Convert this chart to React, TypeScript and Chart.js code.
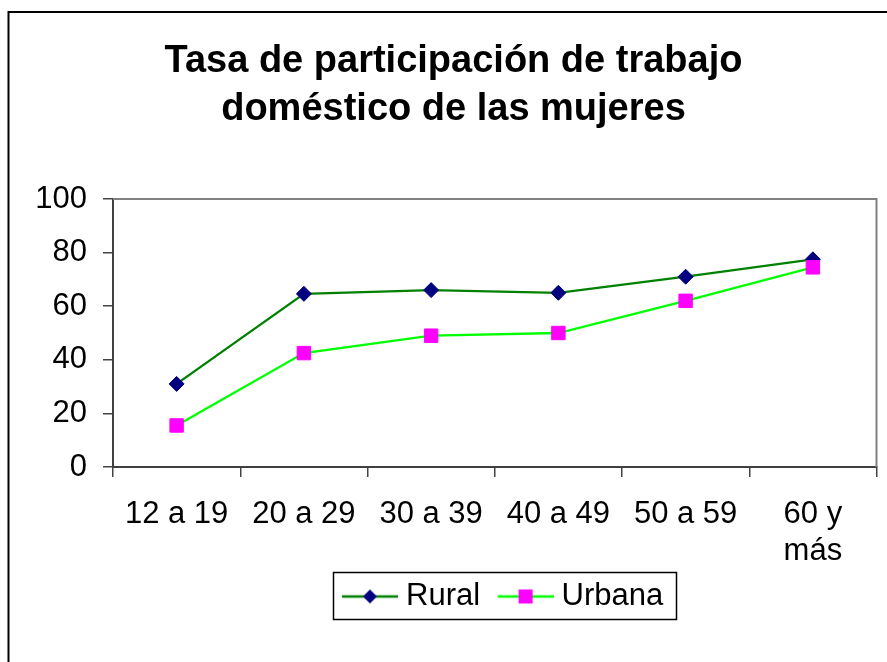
import React, { useEffect, useRef } from 'react';
import { Chart, registerables } from 'chart.js';

Chart.register(...registerables);

// ---- data ----
const categories: (string | string[])[] = ['12 a 19', '20 a 29', '30 a 39', '40 a 49', '50 a 59', ['60 y', 'más']];
const rural: number[] = [31, 64.6, 66, 65, 71, 77.5];
const urbana: number[] = [15.5, 42.5, 49, 50, 62, 74.5];
const seriesNames: string[] = ['Rural', 'Urbana'];
const titleLines: string[] = ['Tasa de participación de trabajo', 'doméstico de las mujeres'];
const yMin = 0;
const yMax = 100;
const yStep = 20;

const FONT = '"Liberation Sans", Arial, Helvetica, sans-serif';
const RURAL_LINE = '#008000';
const RURAL_MARK = '#000080';
const URB_LINE = '#00FF00';
const URB_MARK = '#FF00FF';
const LEGEND_FIRST_X = 334.5;
const LEGEND_PAD = 10;
const LEGEND_BOX_W = 56;

// legend symbol image: 71 wide, line drawn on its right 56 px, marker centred on the line
function makeLegendImage(lineColor: string, markColor: string, kind: 'diamond' | 'square') {
  const c = document.createElement('canvas');
  c.width = 71;
  c.height = 18;
  const ctx = c.getContext('2d')!;
  ctx.strokeStyle = lineColor;
  ctx.lineWidth = 2.5;
  ctx.beginPath();
  ctx.moveTo(15, 9);
  ctx.lineTo(71, 9);
  ctx.stroke();
  ctx.fillStyle = markColor;
  const cx = 43;
  if (kind === 'diamond') {
    ctx.beginPath();
    ctx.moveTo(cx - 7, 9);
    ctx.lineTo(cx, 2);
    ctx.lineTo(cx + 7, 9);
    ctx.lineTo(cx, 16);
    ctx.closePath();
    ctx.fill();
  } else {
    ctx.fillRect(cx - 7, 2, 14, 14);
  }
  return c;
}

const framePlugin = {
  id: 'framePlugin',
  afterLayout(chart: any) {
    const lg = chart.legend;
    if (!lg || !lg.lineWidths) return;
    const pad = lg.options.labels.padding;
    const lw = lg.lineWidths[0];
    const start = (lg.left + pad + lg.right - lw) / 2;
    const delta = LEGEND_FIRST_X - start;
    lg.left += delta;
    lg.right += delta;
  },
  beforeDatasetsDraw(chart: any) {
    const { ctx, chartArea } = chart;
    ctx.save();
    ctx.strokeStyle = '#808080';
    ctx.lineWidth = 2;
    ctx.beginPath();
    ctx.moveTo(chartArea.left, chartArea.top);
    ctx.lineTo(chartArea.right, chartArea.top);
    ctx.lineTo(chartArea.right, chartArea.bottom);
    ctx.stroke();
    ctx.restore();
  },
  afterDraw(chart: any) {
    const { ctx } = chart;
    ctx.save();
    ctx.strokeStyle = '#000';
    ctx.lineWidth = 2;
    ctx.beginPath();
    ctx.moveTo(8.5, 700);
    ctx.lineTo(8.5, 12);
    ctx.lineTo(900, 12);
    ctx.stroke();
    const lg = chart.legend;
    if (lg && lg.legendHitBoxes && lg.legendHitBoxes.length) {
      const hb = lg.legendHitBoxes;
      const first = hb[0];
      const last = hb[hb.length - 1];
      const cy = first.top + first.height / 2;
      const left = Math.round(first.left - 1.5) + 0.5;
      const right = Math.round(last.left + last.width + 13) + 0.5;
      const top = Math.round(cy - 24.5) + 0.5;
      const bottom = Math.round(cy + 22.5) + 0.5;
      ctx.lineWidth = 1.5;
      ctx.strokeRect(left, top, right - left, bottom - top);
    }
    ctx.restore();
  },
};

export default function App() {
  const ref = useRef<HTMLCanvasElement | null>(null);

  useEffect(() => {
    if (!ref.current) return;
    const imgs = [
      makeLegendImage(RURAL_LINE, RURAL_MARK, 'diamond'),
      makeLegendImage(URB_LINE, URB_MARK, 'square'),
    ];
    const tickFont = { family: FONT, size: 31 };
    const chart = new Chart(ref.current, {
      type: 'line',
      data: {
        labels: categories as any,
        datasets: [
          {
            label: seriesNames[0],
            data: rural,
            borderColor: RURAL_LINE,
            backgroundColor: RURAL_MARK,
            pointBackgroundColor: RURAL_MARK,
            pointBorderColor: RURAL_MARK,
            pointStyle: 'rectRot',
            pointRadius: 7.5,
            pointBorderWidth: 1,
            borderWidth: 2.3,
            tension: 0,
            order: 1,
          },
          {
            label: seriesNames[1],
            data: urbana,
            borderColor: URB_LINE,
            backgroundColor: URB_MARK,
            pointBackgroundColor: URB_MARK,
            pointBorderColor: URB_MARK,
            pointStyle: 'rect',
            pointRadius: 9.5,
            pointBorderWidth: 1,
            borderWidth: 2.3,
            tension: 0,
            order: 0,
          },
        ],
      },
      options: {
        responsive: false,
        animation: false,
        events: [],
        layout: { padding: { top: 11, left: 30, right: 10, bottom: 40 } },
        plugins: {
          title: {
            display: true,
            text: titleLines,
            color: '#000',
            font: { family: FONT, size: 38, weight: 'bold', lineHeight: '48px' } as any,
            padding: { top: 27, bottom: 65 },
          },
          legend: {
            position: 'bottom',
            labels: {
              usePointStyle: true,
              pointStyleWidth: LEGEND_BOX_W,
              padding: LEGEND_PAD,
              color: '#000',
              font: tickFont,
              generateLabels: () =>
                seriesNames.map((name, i) => ({
                  text: name,
                  pointStyle: imgs[i] as any,
                  fillStyle: i === 0 ? RURAL_MARK : URB_MARK,
                  strokeStyle: i === 0 ? RURAL_LINE : URB_LINE,
                  lineWidth: 0,
                  hidden: false,
                  datasetIndex: i,
                })),
            },
          },
          tooltip: { enabled: false },
        },
        scales: {
          x: {
            type: 'category',
            offset: true,
            grid: {
              offset: true,
              drawOnChartArea: false,
              drawTicks: true,
              tickLength: 10,
              color: '#444',
              lineWidth: 1.5,
            },
            border: { display: true, color: '#404040', width: 2 },
            ticks: {
              color: '#000',
              font: { family: FONT, size: 31, lineHeight: 1.19 },
              padding: 19,
              maxRotation: 0,
              minRotation: 0,
              autoSkip: false,
            },
            afterFit: (s: any) => {
              s.height = 104;
            },
          },
          y: {
            min: yMin,
            max: yMax,
            ticks: {
              stepSize: yStep,
              padding: 16,
              color: '#000',
              font: tickFont,
            },
            grid: {
              drawOnChartArea: false,
              drawTicks: true,
              tickLength: 10,
              color: '#444',
              lineWidth: 1.5,
            },
            border: { display: true, color: '#404040', width: 2 },
            afterFit: (s: any) => {
              s.width = 83;
            },
          },
        },
      },
      plugins: [framePlugin],
    });
    return () => chart.destroy();
  }, []);

  return (
    <div style={{ position: 'absolute', left: 0, top: 0, width: 887, height: 662, background: '#fff' }}>
      <canvas ref={ref} width={887} height={662} style={{ display: 'block' }} />
    </div>
  );
}
